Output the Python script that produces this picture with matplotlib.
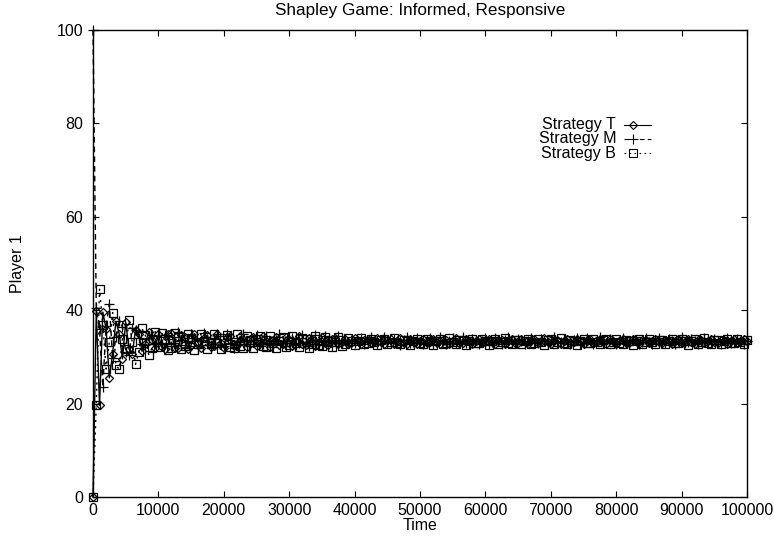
import matplotlib
matplotlib.use("Agg")
import matplotlib.pyplot as plt

plt.rcParams['font.family'] = ['Liberation Sans', 'DejaVu Sans']

# share of each strategy for player 1, sampled every 500 time steps
strategy_t = [
    0.0, 39.8, 19.6, 39.6, 36.0, 25.5, 30.7, 37.6, 35.0, 29.6, 37.4, 31.7, 30.6, 35.8, 34.9, 31.2, 32.8, 35.4, 33.6, 31.9, 34.8,
    32.1, 31.6, 34.9, 35.1, 32.0, 31.8, 34.6, 34.3, 31.7, 32.5, 35.0, 33.2, 31.8, 34.1, 34.7, 32.2, 32.4, 34.9, 33.0, 31.9,
    34.2, 34.5, 32.3, 32.6,
    34.4, 33.1, 32.2, 33.9, 34.3, 32.4, 32.9, 34.5, 33.4, 32.1, 33.7, 34.2, 32.6, 32.8, 34.3, 33.6, 32.3, 33.5, 34.4, 32.7,
    32.6, 34.1, 33.8, 32.4, 33.2, 34.3, 33.0, 32.5, 33.9, 34.0, 32.7, 33.1,
    33.8, 32.8, 33.0, 34.0, 33.4, 32.7, 33.6, 33.9, 32.9, 33.2, 34.0, 33.1, 32.7, 33.7, 33.8, 32.8, 33.3, 34.0, 33.0, 32.8,
    33.9, 33.5, 32.7, 33.4, 33.9, 32.9, 33.1, 33.9, 33.2, 32.8, 33.7, 33.7, 32.8, 33.3, 34.0, 33.0, 32.9, 33.8, 33.4, 32.7,
    33.5, 33.9, 32.9, 33.2, 33.9, 33.1, 32.8, 33.7, 33.6, 32.8, 33.4, 33.9, 33.0, 33.0, 33.8, 33.3, 32.7, 33.6, 33.8, 32.9,
    33.2, 34.0, 33.1, 32.8, 33.7, 33.6, 32.8, 33.4, 33.9, 32.9, 33.1, 33.9, 33.3, 32.7, 33.6, 33.8, 32.9, 33.2, 33.9, 33.1,
    32.8, 33.8, 33.5, 32.8, 33.4, 33.9, 33.0, 33.0, 33.8, 33.3, 32.8, 33.6, 33.7, 32.9, 33.3, 33.9, 33.1, 32.9, 33.7, 33.5,
    32.8, 33.4, 33.9, 33.0, 33.1, 33.8, 33.2, 32.8, 33.6, 33.7, 32.9, 33.3, 33.9, 33.1, 32.9, 33.7, 33.4, 32.8, 33.5, 33.8,
    33.0, 33.2, 33.8, 33.3,
]

strategy_m = [
    100.0, 40.4, 35.9, 23.6, 36.6, 41.3, 29.8, 34.2, 37.6, 36.5, 31.0, 30.4, 36.2, 35.8, 34.1, 32.7, 32.6, 34.1, 34.6, 32.7, 33.0,
    32.7, 34.6, 33.8, 32.4, 32.9, 35.3, 33.6, 31.8, 33.4, 35.0, 33.4, 31.9, 33.6, 35.2, 33.1, 32.0, 34.0, 34.8, 32.5, 32.3,
    34.9, 33.6, 31.9, 33.5,
    33.2, 35.0, 33.3, 32.4, 33.7, 34.6, 32.7, 32.8, 34.4, 33.5, 32.2, 33.7, 34.8, 32.9, 32.4, 34.2, 34.1, 32.5, 33.0, 34.6,
    33.2, 32.3, 33.6, 34.7, 32.8, 32.6, 34.4, 33.5, 32.3, 33.5, 34.5, 32.9,
    33.4, 33.2, 33.6, 32.9, 33.3, 34.1, 32.8, 33.2, 34.2, 33.5, 32.7, 33.3, 34.3, 32.9, 33.0, 33.9, 33.4, 32.6, 33.6, 34.2,
    32.9, 33.1, 34.0, 33.2, 32.7, 33.7, 34.1, 32.8, 33.1, 34.2, 33.3, 32.7, 33.5, 34.0, 32.9, 33.2, 34.3, 33.0, 32.8, 33.8,
    33.6, 32.7, 33.4, 34.1, 32.8, 33.1, 34.0, 33.3, 32.7, 33.6, 34.2, 32.9, 33.0, 33.9, 33.5, 32.8, 33.3, 34.1, 33.0, 32.9,
    33.8, 33.4, 32.7, 33.5, 34.2, 32.9, 33.1, 33.9, 33.2, 32.8, 33.6, 34.1, 32.8, 33.2, 34.0, 33.4, 32.7, 33.4, 34.2, 33.0,
    32.9, 33.8, 33.5, 32.7, 33.3, 34.1, 33.0, 32.9, 33.7, 33.6, 32.8, 33.2, 34.0, 33.1, 32.8, 33.6, 34.1, 32.9, 33.0, 33.9,
    33.4, 32.7, 33.4, 34.2, 32.9, 33.1, 33.8, 33.3, 32.8, 33.5, 34.1, 32.9, 33.2, 33.9, 33.2, 32.7, 33.6, 34.0, 32.9, 33.1,
    33.9, 33.3, 32.8, 33.5,
]

strategy_b = [
    0.0, 19.8, 44.5, 36.8, 27.4, 33.2, 39.5, 28.2, 27.4, 33.9, 31.6, 37.9, 33.2, 28.4, 31.0, 36.1, 34.6, 30.5, 31.8, 35.4, 32.2,
    35.2, 33.9, 31.4, 32.0, 35.1, 34.3, 31.6, 32.3, 35.0, 33.8, 31.5, 32.7, 34.9, 33.4, 31.7, 33.0, 35.0, 32.9, 31.6, 33.6,
    34.6, 32.1, 32.0, 34.8,
    32.4, 31.9, 34.5, 33.6, 32.0, 33.1, 34.4, 32.3, 32.2, 34.4, 33.3, 32.0, 33.5, 34.3, 32.1, 32.6, 34.5, 32.9, 32.1, 34.0,
    33.9, 32.0, 32.8, 34.4, 32.6, 32.3, 34.2, 33.4, 32.1, 33.2, 34.3, 32.4,
    32.7, 34.0, 33.4, 32.6, 33.3, 34.0, 32.8, 32.9, 33.9, 33.2, 32.6, 33.6, 33.9, 32.7, 33.1, 34.0, 33.0, 32.7, 33.7, 33.7,
    32.6, 33.3, 33.9, 32.9, 32.8, 33.8, 33.4, 32.6, 33.5, 33.9, 32.7, 33.0, 34.0, 33.1, 32.7, 33.7, 33.6, 32.6, 33.3, 33.9,
    32.9, 32.9, 33.8, 33.3, 32.6, 33.5, 33.9, 32.8, 33.1, 34.0, 33.0, 32.7, 33.7, 33.6, 32.7, 33.3, 33.9, 32.8, 33.0, 33.9,
    33.2, 32.6, 33.6, 33.8, 32.7, 33.2, 34.0, 33.0, 32.8, 33.7, 33.5, 32.6, 33.4, 33.9, 32.9, 33.0, 33.8, 33.2, 32.7, 33.6,
    33.8, 32.7, 33.2, 33.9, 33.0, 32.8, 33.7, 33.4, 32.6, 33.5, 33.9, 32.8, 33.1, 33.9, 33.1, 32.7, 33.6, 33.7, 32.7, 33.3,
    33.9, 32.9, 32.9, 33.8, 33.3, 32.6, 33.5, 33.8, 32.8, 33.1, 34.0, 33.0, 32.7, 33.7, 33.6, 32.7, 33.3, 33.9, 32.9, 33.0,
    33.8, 33.2, 32.7, 33.6,
]

time = list(range(0, 100001, 500))
labels = ['Strategy T', 'Strategy M', 'Strategy B']

styles = [
    dict(linestyle='-', marker='D', markersize=4.2),
    dict(linestyle=(0, (4, 3)), marker='+', markersize=6.5),
    dict(linestyle=(0, (1.5, 3)), marker='s', markersize=5.2),
]

fs = 11.5
size = (774, 540)
dpi = 100
fig = plt.figure(figsize=(size[0] / dpi, size[1] / dpi), dpi=dpi)
ax = fig.add_axes([93 / 774, 1 - 497 / 540, 654 / 774, 467 / 540])

for series, st in zip([strategy_t, strategy_m, strategy_b], styles):
    ax.plot(time, series, color='black', lw=1.0, mfc='none', mec='black',
            mew=0.9, clip_on=False, **st)

ax.set_xlim(0, 100000)
ax.set_ylim(0, 100)
ax.set_xticks(range(0, 100001, 10000))
ax.set_yticks(range(0, 101, 20))
ax.tick_params(direction='in', top=True, right=True, length=4.5, width=0.8,
               labelsize=fs, color='black')
ax.tick_params(axis='x', pad=4)
ax.tick_params(axis='y', pad=7)
for sp in ax.spines.values():
    sp.set_linewidth(1.0)

ax.set_xlabel('Time', fontsize=fs, labelpad=0)
ax.set_ylabel('Player 1', fontsize=fs)
ax.yaxis.set_label_coords(-0.104, 0.5)
fig.text((93 + 747) / 2 / 774, 1 - 10 / 540, 'Shapley Game: Informed, Responsive',
         ha='center', va='center', fontsize=12.3)

# gnuplot-style key: right aligned text, short line sample with its point
key_y = [0.7966, 0.7666, 0.7366]
for label, st, y in zip(labels, styles, key_y):
    ax.text(0.800, y, label, transform=ax.transAxes, ha='right', va='center',
            fontsize=fs)
    ax.plot([0.812, 0.853], [y, y], transform=ax.transAxes, color='black',
            lw=0.8, linestyle=st['linestyle'])
    ax.plot([0.826], [y], transform=ax.transAxes, color='black', mfc='none',
            mew=0.8, marker=st['marker'], markersize=st['markersize'])

fig.savefig('out.png', dpi=dpi)
